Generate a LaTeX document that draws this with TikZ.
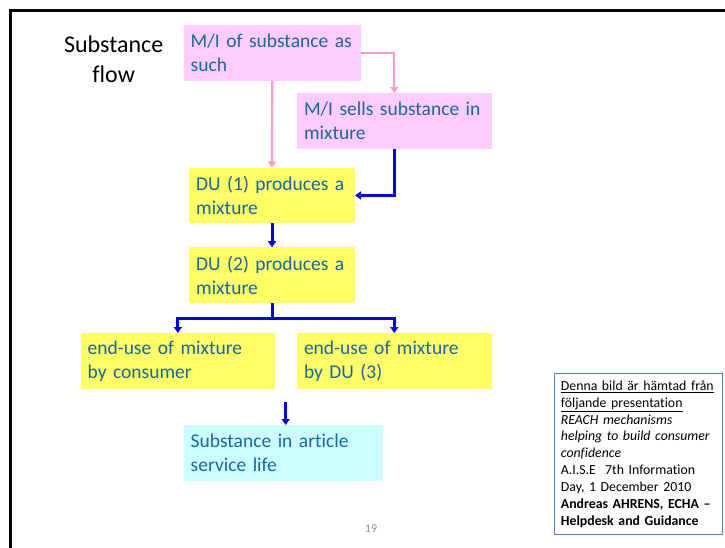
\documentclass[tikz,border=0pt]{standalone}
\usepackage{fontspec}
\setmainfont[Ligatures=NoCommon]{Carlito}
\usetikzlibrary{arrows.meta,calc}
\definecolor{boxtext}{RGB}{23,104,160}
\definecolor{boxpink}{RGB}{255,204,255}
\definecolor{boxyellow}{RGB}{255,255,102}
\definecolor{boxcyan}{RGB}{204,255,255}
\definecolor{arrowpink}{RGB}{255,153,204}
\definecolor{arrowblue}{RGB}{0,0,255}
\definecolor{noteframe}{RGB}{79,129,189}
\definecolor{pagegray}{RGB}{140,140,140}
\tikzset{
    flowbox/.style={anchor=north west,align=left,inner xsep=7pt,inner ysep=2pt,
        minimum height=55.5pt,text=boxtext,font=\fontsize{19.5}{24}\selectfont},
    pinkbox/.style={flowbox,fill=boxpink},
    yellowbox/.style={flowbox,fill=boxyellow},
    cyanbox/.style={flowbox,fill=boxcyan},
    pinkvec/.style={->,line width=2.2pt,arrowpink},
    bluevec/.style={->,line width=3pt,arrowblue},
    notebox/.style={anchor=north west,align=left,draw=noteframe,line width=0.8pt,
        inner xsep=6.5pt,text width=155pt,minimum height=160.7pt,font=\fontsize{13.8}{16.9}\selectfont},
    framebar/.style={line width=3pt,black},
    titletext/.style={align=center,font=\fontsize{24}{29.3}\selectfont},
    pagenum/.style={text=pagegray,font=\fontsize{12}{14}\selectfont}
}

\begin{document}
\begin{tikzpicture}[x=1pt,y=-1pt,>={Triangle[length=6pt,width=8pt]}]
    \useasboundingbox (0,0) rectangle (725,548);
    % Slide frame
    \draw[framebar] (10.5,548) |- (725,10.8);
    % Title
    \node[titletext] (title) at (113.7,59.3) {Substance\\flow};
    % Boxes
    \node[pinkbox,text width=163pt] (misuch) at (183.5,25.2) {M/I of substance as\\such};
    \node[pinkbox,text width=180.6pt] (misells) at (296.8,93) {M/I sells substance in\\mixture};
    \node[yellowbox,text width=151.6pt] (duone) at (189,167.5) {DU (1) produces a\\mixture};
    \node[yellowbox,text width=151.6pt] (dutwo) at (189,247.2) {DU (2) produces a\\mixture};
    \node[yellowbox,text width=180.6pt] (enduse) at (80.4,333) {end-use of mixture\\by consumer};
    \node[yellowbox,text width=180.6pt] (endthree) at (296.8,333) {end-use of mixture\\by DU (3)};
    \node[cyanbox,text width=185.5pt] (article) at (183.5,425) {Substance in article\\service life};
    % Pink flows
    \draw[pinkvec] (misuch.south) -- (duone.north);
    \draw[pinkvec] (misuch.east) -| (misells.north);
    % Blue flows
    \draw[bluevec] (misells.south) |- (duone.east);
    \draw[bluevec] (duone.south) -- (dutwo.north);
    \coordinate (split) at ($(dutwo.south)+(0,15.3)$);
    \draw[line width=3pt,arrowblue] (dutwo.south) -- (split);
    \draw[bluevec] (split) -| (enduse.north);
    \draw[bluevec] (split) -| (endthree.north);
    \coordinate (artin) at (285.7,402);
    \draw[bluevec] (artin) -- (artin |- article.north);
    % Source note
    \node[notebox] (note) at (554,373.3) {\underline{Denna bild är hämtad från}\\
        \underline{följande presentation}\\
        \textit{REACH mechanisms}\\
        \textit{helping to build consumer}\\
        \textit{confidence}\\
        A.I.S.E\ \ 7th Information\\
        Day, 1 December 2010\\
        \textbf{Andreas AHRENS, ECHA –}\\
        \textbf{Helpdesk and Guidance}};
    % Page number
    \node[pagenum] (page) at (371,528.5) {19};
\end{tikzpicture}
\end{document}
